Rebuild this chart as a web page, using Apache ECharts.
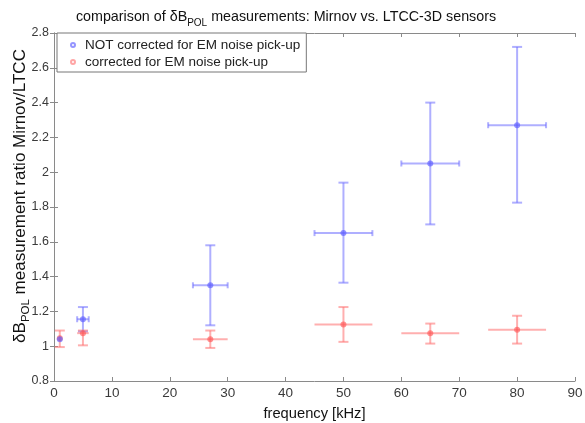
<!DOCTYPE html>
<html>
<head>
<meta charset="utf-8">
<script src="https://cdn.jsdelivr.net/npm/echarts@6/dist/echarts.min.js"></script>
<style>html,body{margin:0;padding:0;background:#fff}#c{width:585px;height:423px}</style>
</head>
<body>
<div id="c"></div>
<script>
// ---- data ----
var blueX     = [1,    5,     27,    50,    65,   80];
var blueY     = [1.04, 1.155, 1.35,  1.65,  2.05, 2.27];
var blueYLow  = [1.04, 1.085, 1.12,  1.365, 1.70, 1.825];
var blueYHigh = [1.04, 1.225, 1.58,  1.94,  2.40, 2.72];
var blueXErr  = [0,    1,     3,     5,     5,    5];

var redX      = [1,    5,     27,    50,    65,    80];
var redY      = [1.045,1.075, 1.04,  1.125, 1.075, 1.095];
var redYLow   = [0.995,1.005, 0.99,  1.025, 1.015, 1.015];
var redYHigh  = [1.09, 1.09,  1.09,  1.225, 1.13,  1.175];
var redXErr   = [0,    1,     3,     5,     5,     5];

var xTicks = [0,10,20,30,40,50,60,70,80,90];
var yTicks = [0.8,1,1.2,1.4,1.6,1.8,2,2.2,2.4,2.6,2.8];

var nameBlue = 'NOT corrected for EM noise pick-up';
var nameRed  = 'corrected for EM noise pick-up';

function build(xs, ys, lo, hi, xe) {
  return xs.map(function (x, i) { return [x, ys[i], lo[i], hi[i], xe[i]]; });
}
var blueData = build(blueX, blueY, blueYLow, blueYHigh, blueXErr);
var redData  = build(redX, redY, redYLow, redYHigh, redXErr);

function errRender(color, hCaps) {
  return function (params, api) {
    var x = api.value(0), lo = api.value(2), hi = api.value(3), xe = api.value(4), y = api.value(1);
    var children = [];
    var st = { stroke: color, lineWidth: 2 };
    var cw = 5;
    if (hi > lo) {
      var pLo = api.coord([x, lo]), pHi = api.coord([x, hi]);
      children.push({ type: 'line', shape: { x1: pLo[0], y1: pLo[1], x2: pHi[0], y2: pHi[1] }, style: st });
      children.push({ type: 'line', shape: { x1: pLo[0]-cw, y1: pLo[1], x2: pLo[0]+cw, y2: pLo[1] }, style: st });
      children.push({ type: 'line', shape: { x1: pHi[0]-cw, y1: pHi[1], x2: pHi[0]+cw, y2: pHi[1] }, style: st });
    }
    if (xe > 0) {
      var pL = api.coord([x - xe, y]), pR = api.coord([x + xe, y]);
      children.push({ type: 'line', shape: { x1: pL[0], y1: pL[1], x2: pR[0], y2: pR[1] }, style: st });
      if (hCaps) {
        children.push({ type: 'line', shape: { x1: pL[0], y1: pL[1]-3, x2: pL[0], y2: pL[1]+3 }, style: st });
        children.push({ type: 'line', shape: { x1: pR[0], y1: pR[1]-3, x2: pR[0], y2: pR[1]+3 }, style: st });
      }
    }
    return { type: 'group', children: children };
  };
}

var axisGray = '#8a8a8a';
var labelColor = '#3a3a3a';
var fontFam = 'Liberation Sans, Arial, sans-serif';

var chart = echarts.init(document.getElementById('c'), null, { renderer: 'canvas' });
chart.setOption({
  animation: false,
  backgroundColor: '#fff',
  title: {
    text: '{n|comparison of δB}{s|POL}{n| measurements: Mirnov vs. LTCC-3D sensors}',
    left: 281, top: 1, textAlign: 'center',
    textStyle: {
      fontWeight: 'normal',
      rich: {
        n: { fontFamily: fontFam, fontSize: 14.3, fontWeight: 'normal', color: '#111', lineHeight: 22, verticalAlign: 'middle' },
        s: { fontFamily: fontFam, fontSize: 10, fontWeight: 'normal', color: '#111', lineHeight: 10, verticalAlign: 'bottom' }
      }
    }
  },
  legend: {
    orient: 'vertical',
    left: 57, top: 33,
    padding: [5, 6, 3, 13],
    itemWidth: 14, itemHeight: 4, itemGap: 3,
    borderColor: '#777', borderWidth: 1, borderRadius: 0,
    backgroundColor: '#fff',
    textStyle: { fontFamily: fontFam, fontSize: 13.5, color: '#222', lineHeight: 14 },
    data: [
      { name: nameBlue, icon: 'emptyCircle', itemStyle: { color: '#7a7aff', borderColor: '#7a7aff', borderWidth: 1 } },
      { name: nameRed, icon: 'emptyCircle', itemStyle: { color: '#ff9090', borderColor: '#ff9090', borderWidth: 1 } }
    ]
  },
  grid: { left: 54, right: 10, top: 33, bottom: 42, outerBoundsMode: 'none', containLabel: false },
  xAxis: [{
    type: 'value', min: 0, max: 90, interval: 10,
    name: 'frequency [kHz]', nameLocation: 'middle', nameGap: 25, nameMoveOverlap: false,
    nameTextStyle: { fontFamily: fontFam, fontSize: 14.7, color: '#111' },
    axisLine: { show: true, lineStyle: { color: axisGray } },
    axisTick: { inside: true, length: 4, lineStyle: { color: axisGray } },
    axisLabel: { fontFamily: fontFam, fontSize: 13.5, color: labelColor, margin: 5 },
    splitLine: { show: false }
  }, {
    type: 'value', min: 0, max: 90, interval: 10, position: 'top',
    axisLine: { show: true, lineStyle: { color: axisGray } },
    axisTick: { inside: true, length: 4, lineStyle: { color: axisGray } },
    axisLabel: { show: false }, splitLine: { show: false }
  }],
  yAxis: [{
    type: 'value', min: 0.8, max: 2.8, interval: 0.2,
    name: '{n|δB}{s|POL}{n| measurement ratio Mirnov/LTCC}',
    nameLocation: 'middle', nameGap: 22, nameRotate: 90, nameMoveOverlap: false,
    nameTextStyle: {
      padding: [0, 0, 0, 22],
      rich: {
        n: { fontFamily: fontFam, fontSize: 17, color: '#111', lineHeight: 24, verticalAlign: 'middle' },
        s: { fontFamily: fontFam, fontSize: 11.5, color: '#111', lineHeight: 11, verticalAlign: 'bottom' }
      }
    },
    axisLine: { show: true, lineStyle: { color: axisGray } },
    axisTick: { inside: true, length: 4, lineStyle: { color: axisGray } },
    axisLabel: { fontFamily: fontFam, fontSize: 12.5, color: labelColor, margin: 5,
      formatter: function (v) { return String(Math.round(v * 10) / 10); } },
    splitLine: { show: false }
  }, {
    type: 'value', min: 0.8, max: 2.8, interval: 0.2, position: 'right',
    axisLine: { show: true, lineStyle: { color: axisGray } },
    axisTick: { inside: true, length: 4, lineStyle: { color: axisGray } },
    axisLabel: { show: false }, splitLine: { show: false }
  }],
  series: [
    { type: 'custom', name: nameBlue + ' err', renderItem: errRender('rgba(110,110,255,0.55)', true),
      data: blueData, encode: { x: 0, y: 1 }, z: 2, silent: true },
    { type: 'custom', name: nameRed + ' err', renderItem: errRender('rgba(255,110,110,0.55)', false),
      data: redData, encode: { x: 0, y: 1 }, z: 2, silent: true },
    { type: 'scatter', name: nameRed, data: redData, encode: { x: 0, y: 1 }, symbolSize: 6,
      itemStyle: { color: 'rgba(255,80,80,0.75)' }, z: 3 },
    { type: 'scatter', name: nameBlue, data: blueData, encode: { x: 0, y: 1 }, symbolSize: 6,
      itemStyle: { color: 'rgba(90,90,255,0.8)' }, z: 4 }
  ]
});
</script>
</body>
</html>
